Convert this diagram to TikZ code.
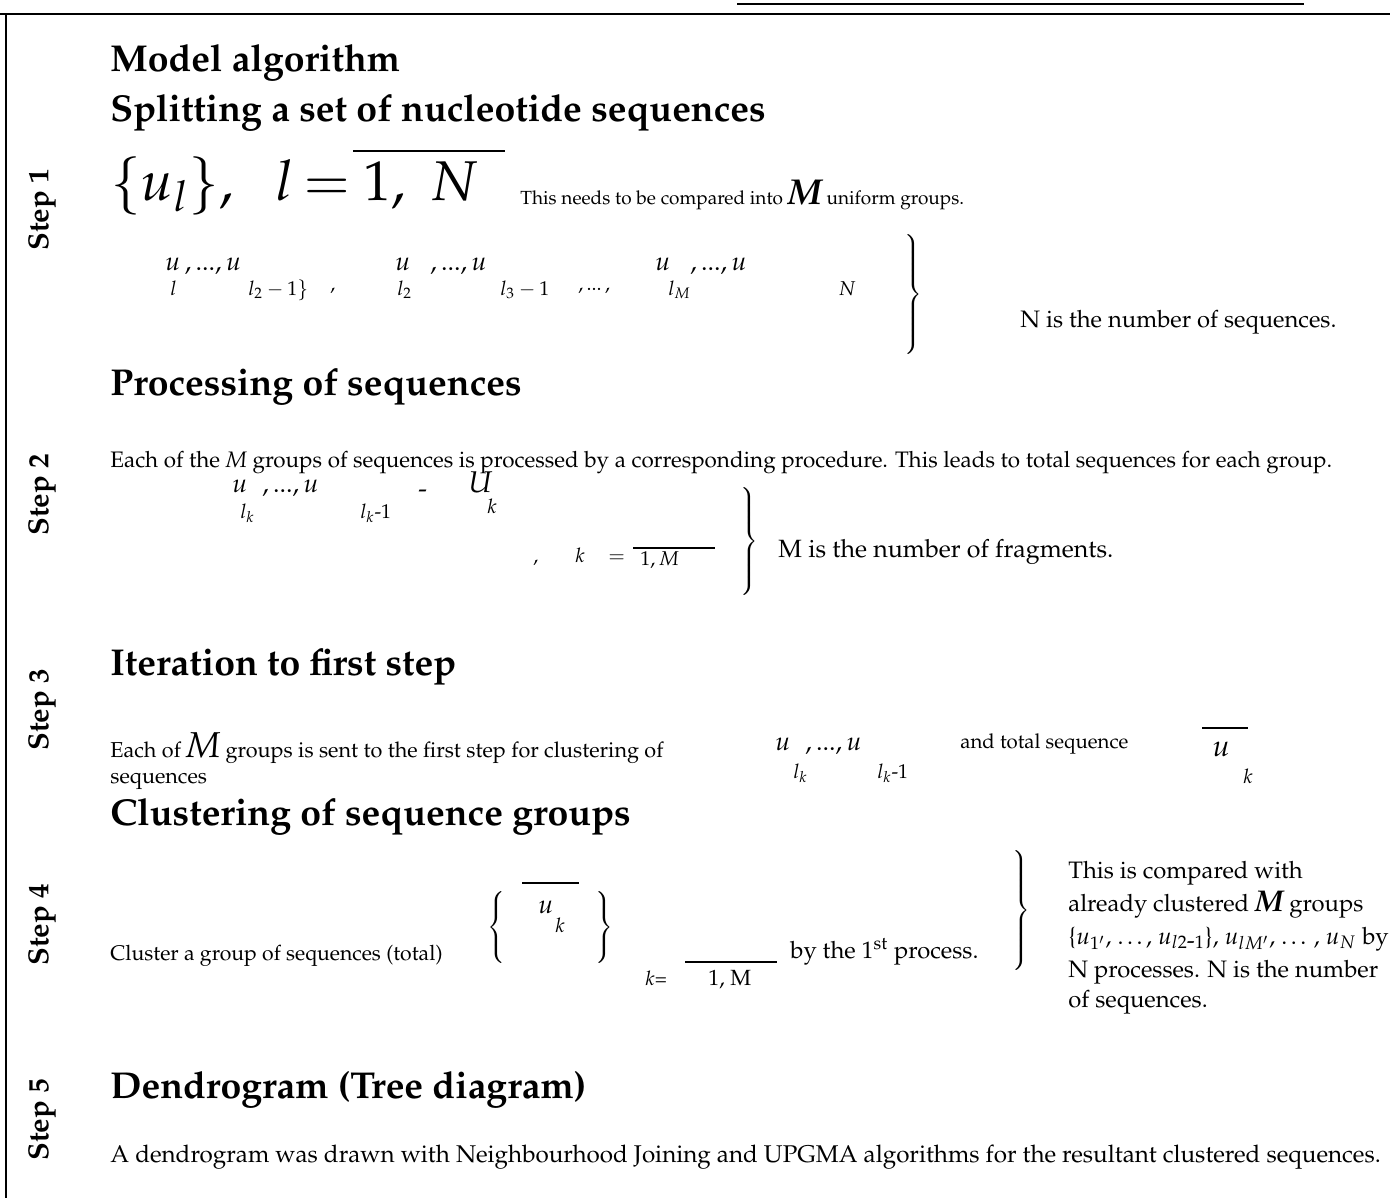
\documentclass[tikz,border=0pt]{standalone}
\usepackage[T1]{fontenc}
\usepackage{mathpazo}
\usetikzlibrary{positioning}

\begin{document}
\begin{tikzpicture}[x=0.5pt, y=-0.5pt, every node/.style={inner sep=0pt, anchor=base west}]

\tikzset{
  heading/.style={font=\fontsize{18.7}{22}\selectfont\bfseries},
  steplabel/.style={rotate=90, anchor=center, font=\fontsize{14.5}{17}\selectfont\bfseries},
  bodytext/.style={font=\fontsize{11.9}{14}\selectfont},
  smalltext/.style={font=\fontsize{9.5}{11}\selectfont},
  mathrow/.style={font=\fontsize{13}{15}\selectfont},
  subrow/.style={font=\fontsize{10}{12}\selectfont},
  bigmath/.style={font=\fontsize{28}{32}\selectfont},
  bigbrace/.style={anchor=center, font=\boldmath},
  frameline/.style={line width=1pt},
  barline/.style={line width=0.7pt},
}
\useasboundingbox (0,0) rectangle (1390,1198);

% ---- frame ----
\draw[frameline] (737,4) -- (1304,4);
\draw[frameline] (0,14) -- (1390,14);
\draw[frameline] (6,14) -- (6,1198);

% ---- step labels ----
\node[steplabel] (step1) at (42,210) {Step 1};
\node[steplabel] (step2) at (42,495) {Step 2};
\node[steplabel] (step3) at (42,710) {Step 3};
\node[steplabel] (step4) at (42,925) {Step 4};
\node[steplabel] (step5) at (42,1120) {Step 5};

% ---- step 1: splitting ----
\node[heading] (title) at (110,72) {Model algorithm};
\node[heading] (split) at (110,122) {Splitting a set of nucleotide sequences};
\node[bigmath] (useq) at (110,200) {$\{u_{l}\},$};
\node[bigmath] (lvar) at (275,200) {$l$};
\node[bigmath] (leq) at (303,200) {$=$};
\node[bigmath] (lrange) at (363,200) {$1,\;N$};
\draw[barline] (353,151) -- (505,151);
\node[smalltext] (needs) at (520,205)
  {This needs to be compared into {\fontsize{18}{20}\selectfont\bfseries\itshape M} uniform groups.};

\node[mathrow] (ra) at (165,270) {$u$\,,\,...,\,$u$};
\node[mathrow] (rb) at (395,270) {$u$};
\node[mathrow] (rc) at (430,270) {,\,...,\,$u$};
\node[mathrow] (rd) at (655,270) {$u$};
\node[mathrow] (re) at (690,270) {,\,...,\,$u$};
\node[subrow] (sa) at (170,295) {$l$};
\node[subrow] (sb) at (248,295) {$l_2 - 1\}$};
\node[subrow] (sc) at (330,290) {$,$};
\node[subrow] (sd) at (397,295) {$l_2$};
\node[subrow] (se) at (500,295) {$l_3 -1$};
\node[subrow] (sf) at (578,290) {,\,...\,,};
\node[subrow] (sg) at (668,295) {$l_M$};
\node[subrow] (sh) at (838,295) {$N$};
\node[bigbrace] (brace1) at (912,296) {$\left.\vrule height 29pt depth 29pt width 0pt\right\}$};
\node[bodytext] (nseq) at (1020,327) {N is the number of sequences.};

% ---- step 2: processing ----
\node[heading] (proc) at (110,395) {Processing of sequences};
\node[font=\fontsize{11.2}{13}\selectfont] (eachm) at (110,467)
  {Each of the \textit{M} groups of sequences is processed by a corresponding procedure. This leads to total sequences for each group.};
\node[mathrow] (pa) at (232,492) {$u$};
\node[mathrow] (pb) at (262,492) {,\,...,\,$u$};
\node[mathrow] (pc) at (418,497) {-};
\node[font=\fontsize{15}{17}\selectfont] (pd) at (468,492) {$U$};
\node[subrow] (qa) at (240,518) {$l_k$};
\node[subrow] (qb) at (360,518) {$l_k\mbox{-}1$};
\node[subrow] (qc) at (487,513) {$k$};
\node[subrow] (qd) at (533,562) {$,$};
\node[subrow] (qe) at (575,562) {$k$};
\node[subrow] (qf) at (608,562) {$=$};
\node[subrow] (qg) at (640,565) {$1,M$};
\draw[barline] (633,548) -- (715,548);
\node[bigbrace] (brace2) at (748,542) {$\left.\vrule height 25pt depth 25pt width 0pt\right\}$};
\node[font=\fontsize{12.5}{14}\selectfont] (mfrag) at (778,557) {M is the number of fragments.};

% ---- step 3: iteration ----
\node[heading] (iter) at (110,675) {Iteration to first step};
\node[font=\fontsize{10.8}{13}\selectfont] (sent) at (110,757)
  {Each of {\fontsize{18}{20}\selectfont\itshape M} groups is sent to the first step for clustering of};
\node[font=\fontsize{10.8}{13}\selectfont] (sent2) at (110,783) {sequences};
\node[mathrow] (ia) at (775,750) {$u$};
\node[mathrow] (ib) at (805,750) {,\,...,\,$u$};
\node[subrow] (ja) at (793,778) {$l_k$};
\node[subrow] (jb) at (877,778) {$l_k\mbox{-}1$};
\node[font=\fontsize{10.2}{12}\selectfont] (total) at (960,748) {and total sequence};
\draw[barline] (1202,728) -- (1248,728);
\node[font=\fontsize{15}{17}\selectfont] (ua) at (1212,756) {$u$};
\node[subrow] (ka) at (1243,783) {$k$};

% ---- step 4: clustering ----
\node[heading] (clus) at (110,825) {Clustering of sequence groups};
\node[font=\fontsize{10.6}{12}\selectfont] (cgrp) at (110,960) {Cluster a group of sequences (total)};
\node[bigbrace] (lbr) at (498,927) {$\left\{\vrule height 15pt depth 15pt width 0pt\right.$};
\node[bigbrace] (rbr) at (603,927) {$\left.\vrule height 15pt depth 15pt width 0pt\right\}$};
\draw[barline] (522,883) -- (579,883);
\node[mathrow] (ub) at (538,913) {$u$};
\node[subrow] (kb) at (555,932) {$k$};
\node[subrow] (kc) at (645,985) {$k$=};
\draw[barline] (685,962) -- (777,962);
\node[font=\fontsize{11}{13}\selectfont] (onem) at (708,985) {1, M};
\node[bodytext] (first) at (790,958) {by the 1\textsuperscript{st} process.};
\node[bigbrace] (brace3) at (1020,911) {$\left.\vrule height 28pt depth 28pt width 0pt\right\}$};
\node[bodytext] (cmp1) at (1068,878) {This is compared with};
\node[bodytext] (cmp2) at (1068,911) {already clustered {\fontsize{15}{17}\selectfont\bfseries\itshape M} groups};
\node[bodytext] (cmp3) at (1068,944)
  {\{$u_{1'}$, \dots, $u_{l2\mbox{-}1}$\}, $u_{lM'}$, \dots\,, $u_N$ by};
\node[bodytext] (cmp4) at (1068,977) {N processes. N is the number};
\node[bodytext] (cmp5) at (1068,1007) {of sequences.};

% ---- step 5: dendrogram ----
\node[heading] (dend) at (110,1098) {Dendrogram (Tree diagram)};
\node[font=\fontsize{12.1}{14}\selectfont] (drawn) at (110,1162)
  {A dendrogram was drawn with Neighbourhood Joining and UPGMA algorithms for the resultant clustered sequences.};

\end{tikzpicture}
\end{document}
